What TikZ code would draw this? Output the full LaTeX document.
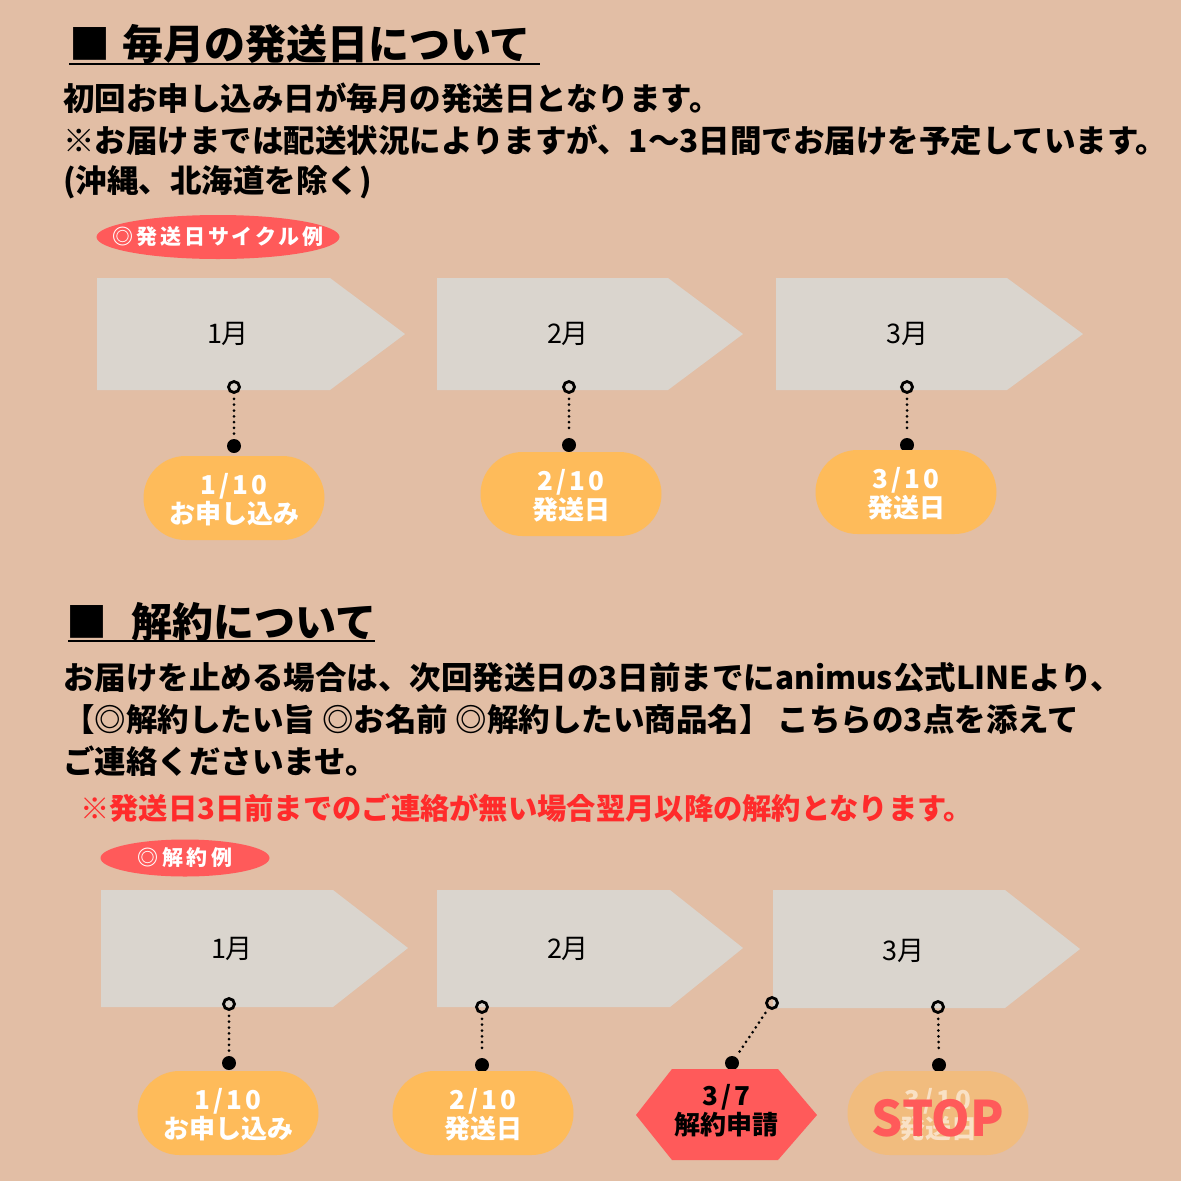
\documentclass[tikz,border=0pt]{standalone}
\usepackage{fontspec}
\usetikzlibrary{shapes.geometric}
\setmainfont{Noto Sans CJK JP}
\definecolor{bgc}{HTML}{E2BEA5}
\definecolor{boxc}{HTML}{DAD5CE}
\definecolor{orangec}{HTML}{FEBB5A}
\definecolor{redc}{HTML}{FF5A5A}
\definecolor{redtext}{HTML}{FF2B2B}
\definecolor{fadedc}{HTML}{F1BC7E}
\newcommand{\fs}[1]{\fontsize{#1}{#1}\selectfont}
\newcommand{\ls}[2]{{\addfontfeatures{LetterSpace=#1}#2}}
\begin{document}
\begin{tikzpicture}[x=1pt,y=-1pt,
  title/.style={anchor=west, inner sep=0pt, font=\fs{41}\bfseries},
  sq/.style={inner sep=0pt, font=\fs{41}\bfseries},
  body/.style={anchor=west, inner sep=0pt, font=\fs{31.5}\bfseries},
  badge/.style={ellipse, fill=redc, inner sep=0pt},
  badgetext/.style={inner sep=0pt, text=white, font=\fs{21}\bfseries},
  month/.style={inner sep=0pt, font=\fs{27}},
  pinopen/.style={circle, draw=black, line width=2.8pt, minimum size=11pt, inner sep=0pt},
  pindot/.style={circle, fill=black, minimum size=14pt, inner sep=0pt},
  dots/.style={line width=3pt, dash pattern=on 0pt off 5.8pt, line cap=round, shorten <=5pt, shorten >=5pt},
  pill/.style={fill=orangec, rounded corners=42pt, minimum width=181pt, minimum height=84pt, inner sep=0pt, text=white, align=center, font=\fs{26}\bfseries, text depth=0pt},
]
\fill[bgc] (0,0) rectangle (1181,1181);
\useasboundingbox (0,0) rectangle (1181,1181);

% ---- section 1 ----
\node[sq] (s1) at (90,44) {■};
\node[title] (t1) at (122,44) {毎月の発送日について};
\draw[line width=2.5pt] (69,64) -- (540,64);
\node[body] (l1) at (63,98) {初回お申し込み日が毎月の発送日となります。};
\node[body] (l2) at (63,140) {※お届けまでは配送状況によりますが、1〜3日間でお届けを予定しています。};
\node[body] (l3) at (63,182) {(沖縄、北海道を除く)};
\node[badge, minimum width=243pt, minimum height=44pt] (b1) at (218,237) {};
\node[badgetext] (bt1) at (b1.center) {\ls{14}{◎発送日サイクル例}};

\fill[boxc] (97,278) -- (330,278) -- (405,334) -- (330,390) -- (97,390) -- cycle;
\fill[boxc] (437,278) -- (668,278) -- (743,334) -- (668,390) -- (437,390) -- cycle;
\fill[boxc] (776,278) -- (1007,278) -- (1083,334) -- (1007,390) -- (776,390) -- cycle;
\node[month] (m1) at (228,334) {1月};
\node[month] (m2) at (568,334) {2月};
\node[month] (m3) at (907,334) {3月};

\node[pinopen] (o1) at (234,387) {};
\node[pindot] (d1) at (234,446) {};
\node[pinopen] (o2) at (569,387) {};
\node[pindot] (d2) at (569,445) {};
\node[pinopen] (o3) at (907,387) {};
\node[pindot] (d3) at (907,445) {};
\draw[dots] (o1) -- (d1);
\draw[dots] (o2) -- (d2);
\draw[dots] (o3) -- (d3);

\node[pill] (p1) at (234,498) {\ls{12}{1/10}\\[1pt]お申し込み};
\node[pill] (p2) at (571,494) {\ls{12}{2/10}\\[1pt]発送日};
\node[pill] (p3) at (906,492) {\ls{12}{3/10}\\[1pt]発送日};

% ---- section 2 ----
\node[sq] (s2) at (87,622) {■};
\node[title] (t2) at (131,622) {解約について};
\draw[line width=2.5pt] (68,641) -- (375,641);
\node[body] (k1) at (63,678) {お届けを止める場合は、次回発送日の3日前までにanimus公式LINEより、};
\node[body] (k2) at (63,719) {【◎解約したい旨 ◎お名前 ◎解約したい商品名】 こちらの3点を添えて};
\node[body] (k3) at (63,761) {ご連絡くださいませ。};
\node[body, font=\fs{29.3}\bfseries, text=redtext] (k4) at (80,808) {※発送日3日前までのご連絡が無い場合翌月以降の解約となります。};
\node[badge, minimum width=169pt, minimum height=37pt] (b2) at (185,858) {};
\node[badgetext] (bt2) at (b2.center) {\ls{18}{◎解約例}};

\fill[boxc] (101,890) -- (333,890) -- (408,948) -- (333,1007) -- (101,1007) -- cycle;
\fill[boxc] (437,890) -- (670,890) -- (743,948) -- (670,1007) -- (437,1007) -- cycle;
\fill[boxc] (773,890) -- (1005,890) -- (1080,949) -- (1005,1008) -- (773,1008) -- cycle;
\node[month] (n1) at (232,949) {1月};
\node[month] (n2) at (568,949) {2月};
\node[month] (n3) at (903,951) {3月};

\node[pinopen] (q1) at (229,1004) {};
\node[pindot] (e1) at (229,1063) {};
\node[pinopen] (q2) at (482,1007) {};
\node[pindot] (e2) at (482,1065) {};
\node[pinopen] (q3) at (772,1003) {};
\node[pindot] (e3) at (732,1063) {};
\node[pinopen] (q4) at (938,1007) {};
\node[pindot] (e4) at (939,1065) {};
\draw[dots] (q1) -- (e1);
\draw[dots] (q2) -- (e2);
\draw[dots] (q3) -- (e3);
\draw[dots] (q4) -- (e4);

\node[pill] (r1) at (228,1113) {\ls{12}{1/10}\\[1pt]お申し込み};
\node[pill] (r2) at (483,1113) {\ls{12}{2/10}\\[1pt]発送日};
\fill[redc] (636,1115) -- (672,1069) -- (778,1069) -- (817,1115) -- (778,1160) -- (672,1160) -- cycle;
\node[inner sep=0pt, align=center, font=\fs{26}\bfseries] (h1) at (726,1111) {\ls{12}{3/7}\\[1pt]解約申請};
\node[pill, fill=fadedc, text=white!55!fadedc] (r4) at (938,1113) {\ls{12}{3/10}\\[1pt]発送日};
\node[inner sep=0pt, text=redc, font=\fs{49}\bfseries] (stop) at (938,1118) {STOP};
\end{tikzpicture}
\end{document}
